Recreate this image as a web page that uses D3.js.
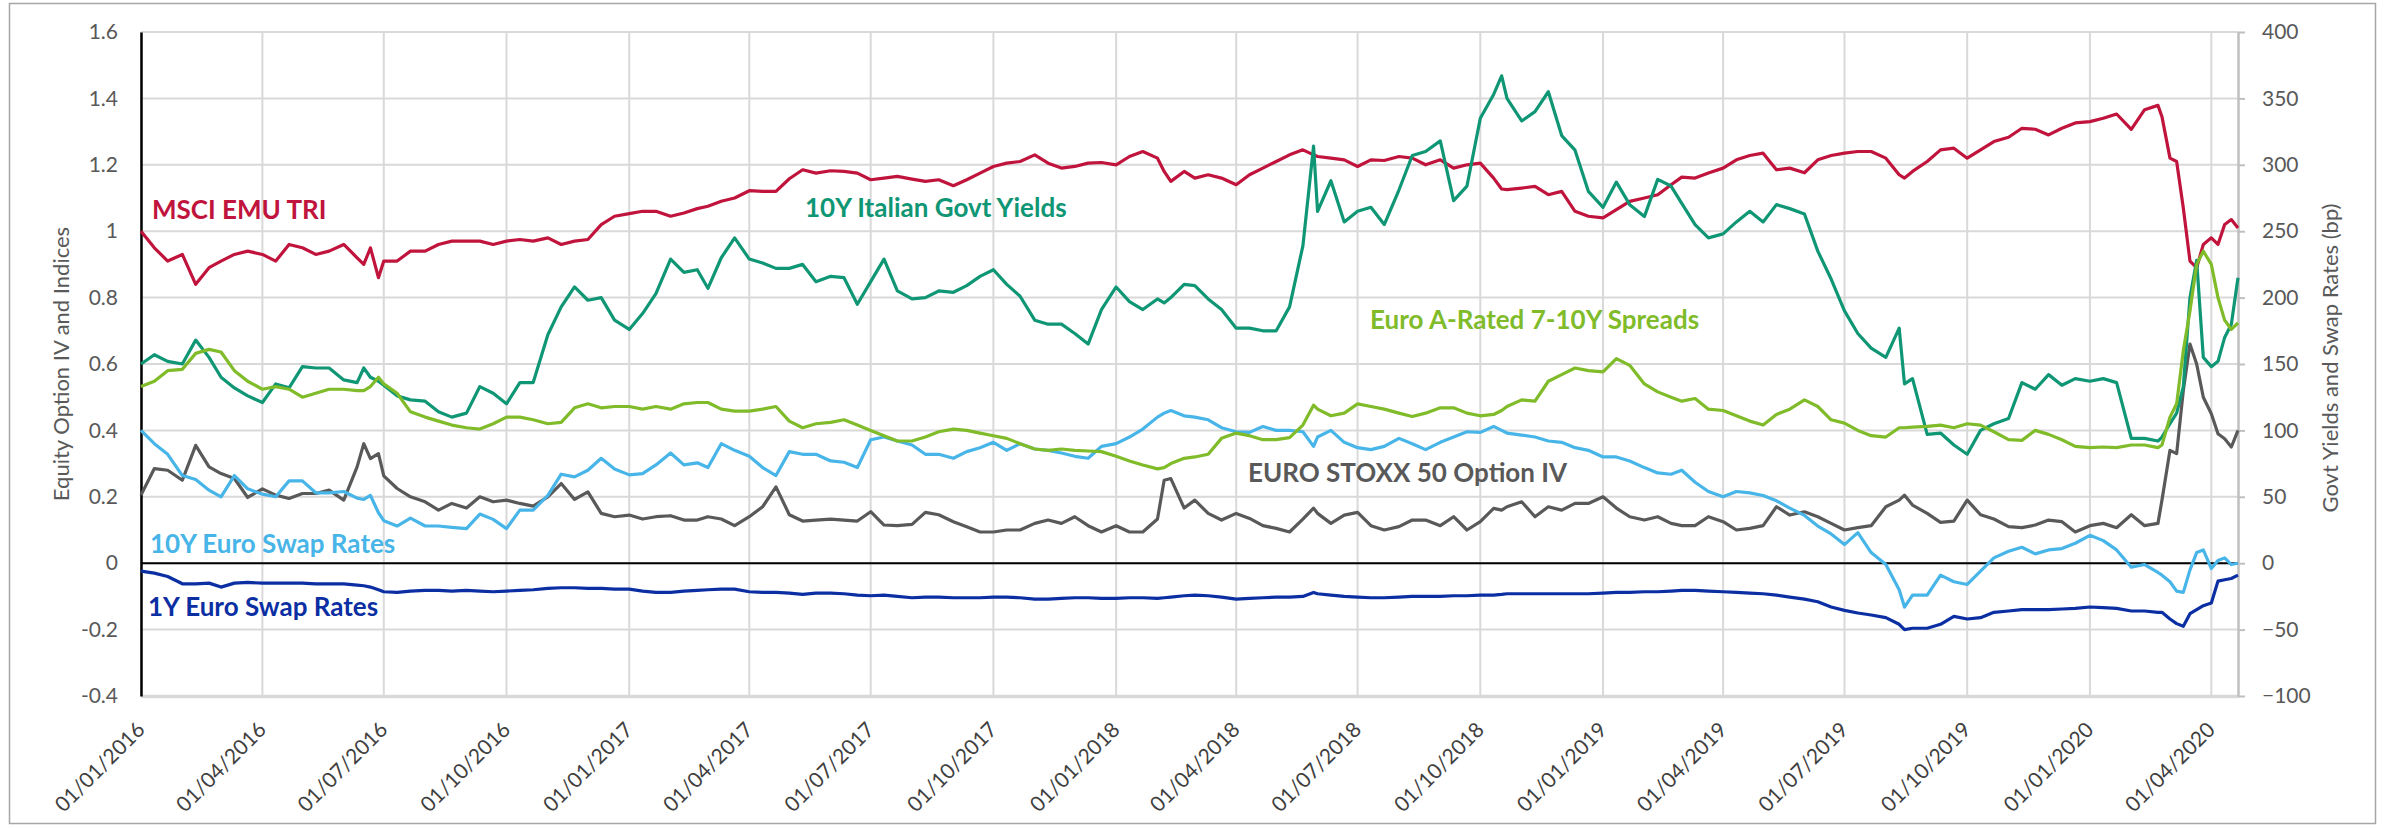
<!DOCTYPE html>
<html>
<head>
<meta charset="utf-8">
<script src="https://cdn.jsdelivr.net/npm/d3@7"></script>
<style>
  body { margin: 0; background: #ffffff; }
  svg { display: block; font-family: Lato, 'Open Sans', sans-serif; }
</style>
</head>
<body>
<svg width="2390" height="828"></svg>
<script>
// --- Dados ---
const dates = [
  // 2016
  '2016-01-01','2016-01-11','2016-01-21','2016-02-01','2016-02-11','2016-02-21','2016-03-01','2016-03-11','2016-03-21',
  '2016-04-01','2016-04-11','2016-04-21','2016-05-01','2016-05-11','2016-05-21','2016-06-01','2016-06-11','2016-06-16','2016-06-21','2016-06-27',
  '2016-07-01','2016-07-11','2016-07-21','2016-08-01','2016-08-11','2016-08-21','2016-09-01','2016-09-11','2016-09-21',
  '2016-10-01','2016-10-11','2016-10-21','2016-11-01','2016-11-11','2016-11-21','2016-12-01','2016-12-11','2016-12-21',
  // 2017
  '2017-01-01','2017-01-11','2017-01-21','2017-02-01','2017-02-11','2017-02-21','2017-03-01','2017-03-11','2017-03-21',
  '2017-04-01','2017-04-11','2017-04-21','2017-05-01','2017-05-11','2017-05-21','2017-06-01','2017-06-11','2017-06-21',
  '2017-07-01','2017-07-11','2017-07-21','2017-08-01','2017-08-11','2017-08-21','2017-09-01','2017-09-11','2017-09-21',
  '2017-10-01','2017-10-11','2017-10-21','2017-11-01','2017-11-11','2017-11-21','2017-12-01','2017-12-11','2017-12-21',
  // 2018
  '2018-01-01','2018-01-11','2018-01-21','2018-02-01','2018-02-06','2018-02-11','2018-02-21','2018-03-01','2018-03-11','2018-03-21',
  '2018-04-01','2018-04-11','2018-04-21','2018-05-01','2018-05-11','2018-05-21','2018-05-29','2018-06-01','2018-06-11','2018-06-21',
  '2018-07-01','2018-07-11','2018-07-21','2018-08-01','2018-08-11','2018-08-21','2018-09-01','2018-09-11','2018-09-21',
  '2018-10-01','2018-10-11','2018-10-17','2018-10-21','2018-11-01','2018-11-11','2018-11-21','2018-12-01','2018-12-11','2018-12-21',
  // 2019
  '2019-01-01','2019-01-11','2019-01-21','2019-02-01','2019-02-11','2019-02-21','2019-03-01','2019-03-11','2019-03-21',
  '2019-04-01','2019-04-11','2019-04-21','2019-05-01','2019-05-11','2019-05-21','2019-06-01','2019-06-11','2019-06-21',
  '2019-07-01','2019-07-11','2019-07-21','2019-08-01','2019-08-11','2019-08-15','2019-08-21','2019-09-01','2019-09-11','2019-09-21',
  '2019-10-01','2019-10-11','2019-10-21','2019-11-01','2019-11-11','2019-11-21','2019-12-01','2019-12-11','2019-12-21',
  // 2020
  '2020-01-01','2020-01-11','2020-01-21','2020-02-01','2020-02-11','2020-02-21','2020-02-24','2020-03-01','2020-03-06',
  '2020-03-11','2020-03-16','2020-03-21','2020-03-26','2020-04-01','2020-04-06','2020-04-11','2020-04-16','2020-04-21'
];

// eixo esquerdo (índice e volatilidade)
const msciEmuTri = [
  1.00, 0.95, 0.91, 0.93, 0.84, 0.89, 0.91, 0.93, 0.94,
  0.93, 0.91, 0.96, 0.95, 0.93, 0.94, 0.96, 0.92, 0.90, 0.95, 0.86,
  0.91, 0.91, 0.94, 0.94, 0.96, 0.97, 0.97, 0.97, 0.96,
  0.97, 0.975, 0.97, 0.98, 0.96, 0.97, 0.975, 1.02, 1.045,
  1.053, 1.06, 1.06, 1.045, 1.055, 1.068, 1.075, 1.09, 1.10,
  1.122, 1.12, 1.12, 1.158, 1.185, 1.175, 1.182, 1.18, 1.175,
  1.155, 1.16, 1.165, 1.157, 1.15, 1.155, 1.137, 1.155, 1.175,
  1.195, 1.205, 1.21, 1.23, 1.205, 1.19, 1.195, 1.205, 1.207,
  1.20, 1.225, 1.24, 1.22, 1.18, 1.15, 1.18, 1.16, 1.17, 1.16,
  1.14, 1.17, 1.19, 1.21, 1.23, 1.245, 1.23, 1.225, 1.22, 1.215,
  1.195, 1.215, 1.213, 1.225, 1.22, 1.20, 1.215, 1.19, 1.20,
  1.205, 1.16, 1.127, 1.125, 1.13, 1.135, 1.11, 1.12, 1.06, 1.045,
  1.04, 1.065, 1.09, 1.10, 1.11, 1.14, 1.163, 1.16, 1.175,
  1.19, 1.215, 1.228, 1.235, 1.185, 1.19, 1.176, 1.215, 1.228,
  1.235, 1.24, 1.24, 1.22, 1.17, 1.16, 1.18, 1.21, 1.245, 1.25,
  1.22, 1.245, 1.27, 1.283, 1.31, 1.307, 1.29, 1.31, 1.326,
  1.33, 1.34, 1.353, 1.307, 1.366, 1.379, 1.345, 1.22, 1.21,
  1.07, 0.91, 0.89, 0.96, 0.98, 0.96, 1.02, 1.035, 1.01
];

const stoxxOptionIv = [
  0.205, 0.285, 0.28, 0.25, 0.355, 0.29, 0.27, 0.255, 0.198,
  0.224, 0.205, 0.195, 0.21, 0.21, 0.22, 0.19, 0.29, 0.36, 0.315, 0.33,
  0.263, 0.225, 0.20, 0.185, 0.16, 0.18, 0.166, 0.20, 0.185,
  0.19, 0.18, 0.172, 0.20, 0.24, 0.192, 0.215, 0.15, 0.14,
  0.145, 0.133, 0.14, 0.143, 0.13, 0.13, 0.14, 0.133, 0.113,
  0.14, 0.17, 0.23, 0.146, 0.127, 0.13, 0.133, 0.13, 0.127,
  0.155, 0.115, 0.113, 0.117, 0.153, 0.146, 0.125, 0.11, 0.094,
  0.094, 0.10, 0.10, 0.12, 0.13, 0.12, 0.14, 0.113, 0.094,
  0.113, 0.094, 0.094, 0.133, 0.25, 0.255, 0.166, 0.19, 0.15, 0.13,
  0.15, 0.135, 0.113, 0.105, 0.094, 0.133, 0.166, 0.15, 0.12, 0.145,
  0.153, 0.113, 0.10, 0.11, 0.13, 0.13, 0.113, 0.14, 0.10,
  0.125, 0.165, 0.16, 0.17, 0.185, 0.14, 0.17, 0.16, 0.18, 0.18,
  0.20, 0.166, 0.14, 0.13, 0.14, 0.12, 0.113, 0.113, 0.14,
  0.125, 0.10, 0.105, 0.113, 0.17, 0.145, 0.155, 0.14, 0.12,
  0.10, 0.107, 0.113, 0.17, 0.19, 0.205, 0.175, 0.15, 0.123, 0.127,
  0.19, 0.146, 0.133, 0.11, 0.107, 0.115, 0.13, 0.125, 0.094,
  0.113, 0.12, 0.107, 0.146, 0.113, 0.12, 0.19, 0.34, 0.33,
  0.52, 0.66, 0.60, 0.50, 0.45, 0.39, 0.375, 0.35, 0.40
];

// eixo direito (pontos-base)
const italianGovt10y = [
  150, 157, 152, 150, 168, 155, 140, 132, 126,
  121, 135, 132, 148, 147, 147, 138, 136, 147, 140, 137,
  134, 126, 123, 122, 114, 110, 113, 133, 128,
  120, 136, 136, 172, 193, 208, 198, 200, 183,
  176, 188, 203, 229, 219, 221, 207, 230, 245,
  229, 226, 222, 222, 225, 212, 216, 215, 195,
  212, 229, 205, 199, 200, 205, 204, 209, 216,
  221, 210, 201, 183, 180, 180, 173, 165, 191,
  208, 197, 191, 199, 196, 200, 210, 209, 199, 191,
  177, 177, 175, 175, 193, 239, 314, 265, 288, 257,
  265, 268, 255, 281, 307, 310, 318, 273, 284,
  335, 353, 367, 350, 333, 340, 355, 322, 311, 280,
  268, 287, 270, 261, 289, 284, 271, 255, 245,
  248, 257, 265, 257, 270, 267, 263, 235, 214,
  190, 173, 162, 155, 177, 135, 139, 97, 98, 89,
  82, 100, 105, 109, 136, 131, 142, 134, 139,
  137, 139, 136, 94, 94, 92, 95, 105, 113,
  133, 200, 228, 155, 148, 152, 170, 180, 215
];

const euroARated = [
  133, 137, 145, 146, 158, 161, 159, 145, 137,
  131, 133, 131, 125, 128, 131, 131, 130, 130, 133, 140,
  135, 128, 114, 110, 107, 104, 102, 101, 105,
  110, 110, 108, 105, 106, 117, 120, 117, 118,
  118, 116, 118, 116, 120, 121, 121, 116, 114.5,
  114.5, 116, 118, 107, 102, 105, 106, 108, 104,
  100, 96, 92, 92, 95, 99, 101, 100, 98,
  96, 94, 90, 86, 85, 86, 85, 84.5, 84,
  80.5, 77, 74, 71, 72, 75, 79, 80, 82, 94,
  98, 96, 93, 93, 94.5, 104, 119, 116, 111, 113,
  120, 118, 116, 113, 110.5, 113, 117, 117, 113,
  111, 112, 115, 118, 123, 122, 137, 142, 147, 145,
  144, 154, 149, 135, 129, 125, 122, 124, 116,
  115, 111, 107, 104, 112, 116, 123, 118, 108,
  105.5, 100, 96, 95, 102, 102, 102.5, 103, 104, 102,
  105, 104, 99, 93, 92.5, 100, 97, 93, 88,
  87, 87.5, 87, 89, 89, 87, 89, 110, 120,
  160, 190, 225, 235, 225, 200, 183, 176, 181
];

const euroSwap10y = [
  100, 90, 82, 66, 63, 55, 50, 66, 56,
  52, 50, 62, 62, 53, 53, 54, 49, 48, 51, 38,
  32, 28, 34, 28, 28, 27, 26, 37, 33,
  26, 40, 40, 51, 67, 65, 70, 79, 71,
  66.5, 67.5, 74, 83, 74, 75.6, 72, 90, 85,
  80.5, 72, 66, 84, 82, 82, 77, 76, 72,
  93, 95, 92, 89, 82, 82, 79, 84, 87,
  91, 85, 90, 86, 85, 83, 80.5, 79, 88,
  90, 95, 101, 110, 113, 115, 111, 110, 108, 102,
  99, 98.5, 103, 100, 100, 99, 88, 95, 100, 91,
  87, 85.5, 88, 94, 90, 85.5, 91, 95, 99,
  98.5, 103, 100, 98, 96.5, 95, 92, 91, 87, 85,
  80, 80, 77, 72, 68, 67, 70, 61, 54,
  50, 54, 53, 51, 47, 41.5, 36, 28, 22,
  14, 23, 8, -1, -20, -33, -24, -24, -9, -14,
  -16, -6, 4, 9, 12, 7, 10, 11, 15,
  21, 17, 10, -3, -1, -7, -9, -14, -21,
  -22, -5, 8, 10, -4, 2, 4, -1, 0
];

const euroSwap1y = [
  -6, -7.5, -10, -15.5, -15.5, -15, -18, -15, -14.5,
  -15, -15, -15, -15, -15.5, -15.5, -15.5, -16.5, -17, -18, -20,
  -21.5, -22, -21, -20.5, -20.5, -21, -20.5, -21, -21.5,
  -21, -20.5, -20, -19, -18.5, -18.5, -19, -19, -19.5,
  -19.5, -21, -22, -22, -21, -20.5, -20, -19.5, -19.5,
  -21.5, -22, -22, -22.5, -23.5, -22.5, -22.5, -23, -24,
  -24.5, -24, -25, -26, -25.5, -25.5, -26, -26, -26,
  -25.5, -25.5, -26, -27, -27, -26.5, -26, -26, -26.5,
  -26.5, -26, -26, -26.5, -26, -25.5, -24.5, -24, -24.5, -25.5,
  -27, -26.5, -26, -25.5, -25.5, -25, -22, -23, -24, -25,
  -25.5, -26, -26, -25.5, -25, -25, -25, -24.5, -24.5,
  -24, -24, -23.5, -23, -23, -23, -23, -23, -23, -23,
  -22.5, -22, -22, -21.5, -21.5, -21, -20.5, -20.5, -21,
  -21.5, -22, -22.5, -23, -24, -25.5, -27, -29, -33,
  -35.5, -37.5, -39, -41, -46, -50, -49, -49, -46, -40,
  -42, -41, -37, -36, -35, -35, -35, -34.5, -34,
  -33, -33.5, -34, -36, -36, -37, -37, -42, -45.5,
  -47.5, -38, -35, -32, -30, -13.5, -12.5, -11.5, -9
];

const leftTicks = [-0.4, -0.2, 0, 0.2, 0.4, 0.6, 0.8, 1, 1.2, 1.4, 1.6];
const rightTicks = [-100, -50, 0, 50, 100, 150, 200, 250, 300, 350, 400];

// --- Preparação ---
const parse = d3.timeParse('%Y-%m-%d');
const dateObjs = dates.map(parse);
const toPoints = values => values.map((v, i) => ({ date: dateObjs[i], value: v }));

const svg = d3.select('svg');
const width = parseFloat(svg.attr('width'));
const height = parseFloat(svg.attr('height'));
const margens = { left: 141, right: 152, top: 32, bottom: 132 };
const innerWidth = width - margens.left - margens.right;
const innerHeight = height - margens.top - margens.bottom;

// moldura do gráfico
svg.append('rect')
    .attr('x', 9.5).attr('y', 3.5)
    .attr('width', 2366).attr('height', 820)
    .attr('fill', '#ffffff')
    .attr('stroke', '#a6a6a6')
    .attr('stroke-width', 1.5);

const g = svg.append('g')
    .attr('transform', `translate(${margens.left}, ${margens.top})`);

// --- Escalas ---
const xScale = d3.scaleTime()
    .domain([parse('2016-01-01'), parse('2020-04-21')])
    .range([0, innerWidth]);

const yLeft = d3.scaleLinear().domain([-0.4, 1.6]).range([innerHeight, 0]);
const yRight = d3.scaleLinear().domain([-100, 400]).range([innerHeight, 0]);

const quarters = d3.timeMonth.every(3).range(parse('2016-01-01'), parse('2020-04-21'));

// --- Grades ---
g.append('g')
    .selectAll('line')
    .data(leftTicks)
    .join('line')
    .attr('x1', 0).attr('x2', innerWidth)
    .attr('y1', d => yLeft(d)).attr('y2', d => yLeft(d))
    .attr('stroke', '#d9d9d9')
    .attr('stroke-width', 2);

g.append('g')
    .selectAll('line')
    .data(quarters)
    .join('line')
    .attr('x1', d => xScale(d)).attr('x2', d => xScale(d))
    .attr('y1', 0).attr('y2', innerHeight)
    .attr('stroke', '#d9d9d9')
    .attr('stroke-width', 2);

// --- Eixos ---
const fmtLeft = d => String(+d.toFixed(1));
const fmtDate = d3.timeFormat('%d/%m/%Y');

const eixoX = g.append('g')
    .attr('transform', `translate(0, ${innerHeight})`)
    .call(d3.axisBottom(xScale).tickValues(quarters).tickSize(0).tickSizeOuter(0));
eixoX.select('.domain').attr('stroke', '#d9d9d9').attr('stroke-width', 3.5);
eixoX.selectAll('.tick').remove();

const eixoYEsq = g.append('g')
    .call(d3.axisLeft(yLeft).tickValues(leftTicks).tickSize(0).tickSizeOuter(0));
eixoYEsq.select('.domain').attr('stroke', '#000000').attr('stroke-width', 2.5);
eixoYEsq.selectAll('.tick').remove();

const eixoYDir = g.append('g')
    .attr('transform', `translate(${innerWidth}, 0)`)
    .call(d3.axisRight(yRight).tickValues(rightTicks).tickSize(7).tickSizeOuter(0).tickPadding(17));
eixoYDir.select('.domain').attr('stroke', '#bfbfbf').attr('stroke-width', 2.5);
eixoYDir.selectAll('.tick line').attr('stroke', '#bfbfbf').attr('stroke-width', 2);
eixoYDir.selectAll('text')
    .style('font-family', 'Lato, sans-serif')
    .style('font-size', '21px')
    .style('fill', '#595959');

// rótulos do eixo esquerdo (coordenadas da página)
svg.append('g')
    .selectAll('text')
    .data(leftTicks)
    .join('text')
    .attr('x', margens.left - 23)
    .attr('y', d => margens.top + yLeft(d))
    .attr('dy', '0.34em')
    .attr('text-anchor', 'end')
    .style('font-size', '21px')
    .style('fill', '#595959')
    .text(fmtLeft);

// datas inclinadas a 45 graus
svg.append('g')
    .selectAll('text')
    .data(quarters)
    .join('text')
    .attr('x', d => margens.left + xScale(d) + 5)
    .attr('y', margens.top + innerHeight + 35)
    .attr('text-anchor', 'end')
    .attr('transform', d => `rotate(-45, ${margens.left + xScale(d) + 5}, ${margens.top + innerHeight + 35})`)
    .style('font-size', '21px')
    .style('fill', '#404040')
    .text(fmtDate);

// linha do zero
g.append('line')
    .attr('x1', 0).attr('x2', innerWidth)
    .attr('y1', yLeft(0)).attr('y2', yLeft(0))
    .attr('stroke', '#000000')
    .attr('stroke-width', 2);

// --- Títulos dos eixos ---
// rotate(-90) leva (x, y) para (y, -x): o centro fica em (x0, y0) com x = 400
const titulos = [
    { text: 'Equity Option IV and Indices', x0: 61, y0: 364 },
    { text: 'Govt Yields and Swap Rates (bp)', x0: 2330, y0: 358 }
];

svg.append('g')
    .selectAll('text')
    .data(titulos)
    .join('text')
    .attr('transform', d => `translate(${d.x0 - 30}, ${d.y0 + 400}) rotate(-90)`)
    .attr('x', 400)
    .attr('y', 30)
    .attr('dy', '0.35em')
    .attr('text-anchor', 'middle')
    .style('font-size', '22px')
    .style('fill', '#595959')
    .text(d => d.text);

// --- Séries ---
const series = [
    { values: msciEmuTri, scale: yLeft, color: '#c0143c' },
    { values: stoxxOptionIv, scale: yLeft, color: '#595959' },
    { values: euroSwap1y, scale: yRight, color: '#0b2fa3' },
    { values: euroSwap10y, scale: yRight, color: '#48b5e8' },
    { values: italianGovt10y, scale: yRight, color: '#0f9674' },
    { values: euroARated, scale: yRight, color: '#80bb2a' }
];

series.forEach(s => {
    const line = d3.line()
        .x(d => xScale(d.date))
        .y(d => s.scale(d.value));
    g.append('path')
        .datum(toPoints(s.values))
        .attr('d', line)
        .attr('fill', 'none')
        .attr('stroke', s.color)
        .attr('stroke-width', 3.2)
        .attr('stroke-linejoin', 'round');
});

// --- Rótulos das séries ---
const rotulos = [
    { text: 'MSCI EMU TRI', x: 152, y: 219, color: '#c0143c' },
    { text: '10Y Italian Govt Yields', x: 805, y: 217, color: '#0f9674' },
    { text: 'Euro A-Rated 7-10Y Spreads', x: 1370, y: 329, color: '#80bb2a' },
    { text: 'EURO STOXX 50 Option IV', x: 1248, y: 482, color: '#595959' },
    { text: '10Y Euro Swap Rates', x: 150, y: 553, color: '#48b5e8' },
    { text: '1Y Euro Swap Rates', x: 148, y: 616, color: '#0b2fa3' }
];

svg.append('g')
    .selectAll('text')
    .data(rotulos)
    .join('text')
    .attr('x', d => d.x)
    .attr('y', d => d.y)
    .style('font-size', '26px')
    .style('font-weight', 'bold')
    .style('fill', d => d.color)
    .text(d => d.text);
</script>
</body>
</html>
